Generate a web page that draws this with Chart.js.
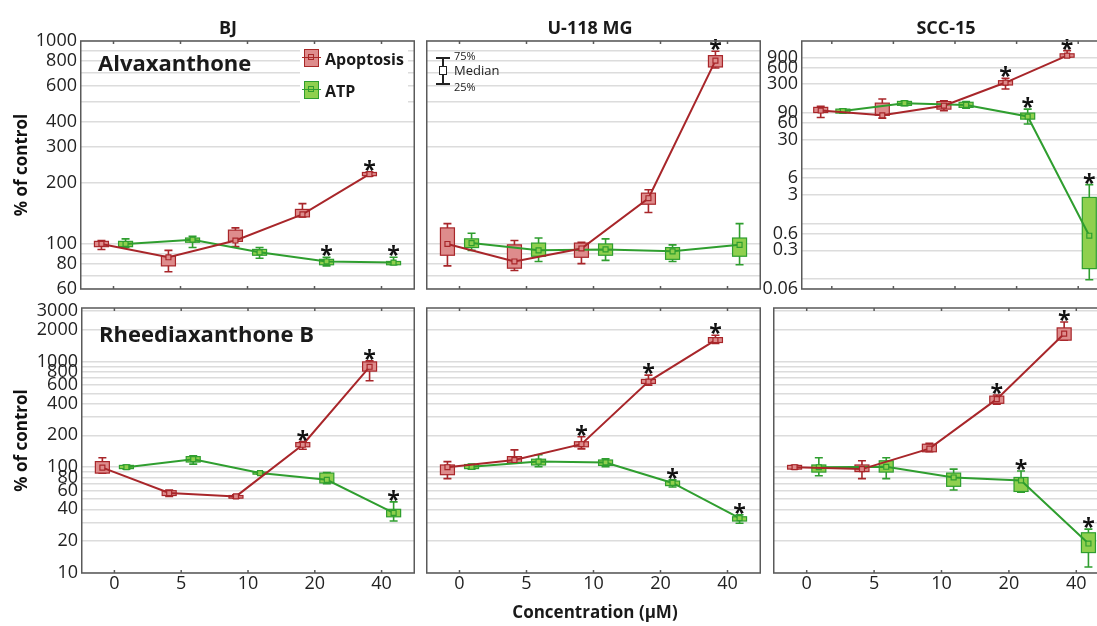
<!DOCTYPE html>
<html>
<head>
<meta charset="utf-8">
<script src="https://cdn.jsdelivr.net/npm/chart.js@4.4.1/dist/chart.umd.min.js"></script>
<style>
    html, body { margin: 0; padding: 0; background: #fff; overflow: hidden; }
    body { position: relative; width: 1097px; height: 626px; font-family: 'Open Sans', sans-serif; color: #1a1a1a; }
    canvas { position: absolute; }
    .txt { position: absolute; white-space: nowrap; font-weight: 700; line-height: 1; }
    .col-title { font-size: 18px; transform: translateX(-50%); }
    .compound { font-size: 22px; }
    .legend-bg { position: absolute; background: #fff; }
    .leg-icon { position: absolute; width: 15px; height: 18px; box-sizing: border-box; border: 1.5px solid; }
    .leg-icon::before { content: ''; position: absolute; left: -3px; right: -3px; top: 7px; border-top: 1.5px solid; border-color: inherit; }
    .leg-icon::after { content: ''; position: absolute; left: 3px; top: 4px; width: 6px; height: 6px; border: 1.5px solid; border-color: inherit; box-sizing: border-box; }
    .leg-text { position: absolute; font-weight: 700; font-size: 16px; line-height: 1; }
    .wk { position: absolute; background: #222; }
    .wk-text { position: absolute; font-size: 11px; line-height: 1; color: #222; }
</style>
</head>
<body>

<canvas id="p1" width="415" height="271" style="left:0;top:30px"></canvas>
<canvas id="p2" width="335" height="271" style="left:426px;top:30px"></canvas>
<canvas id="p3" width="352" height="271" style="left:757px;top:30px"></canvas>
<canvas id="p4" width="415" height="305" style="left:0;top:298px"></canvas>
<canvas id="p5" width="335" height="305" style="left:426px;top:298px"></canvas>
<canvas id="p6" width="337" height="305" style="left:773px;top:298px"></canvas>

<div class="txt col-title" style="left:228px;top:18px">BJ</div>
<div class="txt col-title" style="left:590px;top:18px">U-118 MG</div>
<div class="txt col-title" style="left:946px;top:18px">SCC-15</div>

<div class="txt compound" style="left:98px;top:51px">Alvaxanthone</div>
<div class="txt compound" style="left:99px;top:322px">Rheediaxanthone B</div>

<div class="legend-bg" style="left:300px;top:45px;width:108px;height:60px"></div>
<div class="leg-icon" style="left:304px;top:49px;background:#de8c8c;border-color:#a82828"></div>
<div class="leg-text" style="left:325px;top:51px">Apoptosis</div>
<div class="leg-icon" style="left:304px;top:81px;background:#8fd04e;border-color:#2f9e2f"></div>
<div class="leg-text" style="left:325px;top:83px">ATP</div>

<div class="wk" style="left:442px;top:57px;width:1.5px;height:27px"></div>
<div class="wk" style="left:436px;top:57px;width:14px;height:1.5px"></div>
<div class="wk" style="left:436px;top:83px;width:14px;height:1.5px"></div>
<div class="wk" style="left:439px;top:66px;width:8px;height:9px;background:#fff;border:1.5px solid #222;box-sizing:border-box"></div>
<div class="wk-text" style="left:454px;top:50px">75%</div>
<div class="wk-text" style="left:454px;top:64px;font-size:13px">Median</div>
<div class="wk-text" style="left:454px;top:81px">25%</div>

<div class="txt" style="left:595px;top:603px;font-size:17px;transform:translateX(-50%)">Concentration (&mu;M)</div>

<script>
// categories and tick values
const concLabels = ['0', '5', '10', '20', '40'];

const topGrid = [60, 70, 80, 90, 100, 200, 300, 400, 500, 600, 700, 800, 900, 1000];
const topTicks = [60, 80, 100, 200, 300, 400, 600, 800, 1000];
const sccGrid = [0.06, 0.09, 0.3, 0.6, 0.9, 3, 6, 9, 30, 60, 90, 300, 600, 900];
const sccTicks = [0.06, 0.3, 0.6, 3, 6, 30, 60, 90, 300, 600, 900];
const bottomGrid = [10, 20, 30, 40, 50, 60, 70, 80, 90, 100, 200, 300, 400, 500, 600, 700, 800, 900, 1000, 2000, 3000];
const bottomTicks = [10, 20, 40, 60, 80, 100, 200, 400, 600, 800, 1000, 2000, 3000];

// BJ - Alvaxanthone
const bjAlvApoMed   = [100, 86, 104, 140, 221];
const bjAlvApoBox   = [[97, 103], [78, 87], [103, 117], [136, 148], [217, 225]];
const bjAlvApoWhisk = [[94, 104], [73, 93], [97, 120], [136, 158], [216, 226]];
const bjAlvApoSig   = [0, 0, 0, 0, 1];
const bjAlvAtpMed   = [100, 105, 91, 82, 81];
const bjAlvAtpBox   = [[97, 103], [102, 107], [88, 94], [79, 84], [79, 82]];
const bjAlvAtpWhisk = [[96, 106], [96, 109], [85, 96], [78, 86], [79, 86]];
const bjAlvAtpSig   = [0, 0, 0, 1, 1];

// U-118 MG - Alvaxanthone
const uAlvApoMed   = [100, 82, 95, 168, 800];
const uAlvApoBox   = [[88, 120], [76, 99], [86, 101], [157, 178], [745, 847]];
const uAlvApoWhisk = [[78, 126], [74, 104], [80, 102], [143, 185], [736, 890]];
const uAlvApoSig   = [0, 0, 0, 0, 1];
const uAlvAtpMed   = [101, 93, 94, 92, 99];
const uAlvAtpBox   = [[96, 106], [87, 101], [88, 100], [84, 96], [87, 107]];
const uAlvAtpWhisk = [[93, 113], [82, 107], [83, 106], [82, 99], [79, 126]];
const uAlvAtpSig   = [0, 0, 0, 0, 0];

// SCC-15 - Alvaxanthone
const sAlvApoMed   = [100, 82, 122, 320, 980];
const sAlvApoBox   = [[92, 114], [82, 136], [106, 145], [289, 346], [918, 1057]];
const sAlvApoWhisk = [[75, 119], [73, 162], [99, 150], [245, 382], [918, 1208]];
const sAlvApoSig   = [0, 0, 0, 1, 1];
const sAlvAtpMed   = [98, 136, 126, 78, 0.55];
const sAlvAtpBox   = [[90, 106], [124, 146], [114, 141], [70, 90], [0.14, 2.7]];
const sAlvAtpWhisk = [[90, 106], [122, 148], [110, 145], [57, 106], [0.088, 4.6]];
const sAlvAtpSig   = [0, 0, 0, 1, 1];

// BJ - Rheediaxanthone B
const bjRheApoMed   = [99, 57, 53, 163, 890];
const bjRheApoBox   = [[88, 113], [54, 60], [51, 54], [156, 171], [810, 990]];
const bjRheApoWhisk = [[88, 123], [53, 61], [51, 55], [148, 175], [656, 1013]];
const bjRheApoSig   = [0, 0, 0, 1, 1];
const bjRheAtpMed   = [100, 119, 88, 76, 37];
const bjRheAtpBox   = [[97, 104], [112, 126], [86, 90], [71, 88], [34, 40]];
const bjRheAtpWhisk = [[96, 105], [107, 128], [86, 90], [70, 89], [31, 47]];
const bjRheAtpSig   = [0, 0, 0, 0, 1];

// U-118 MG - Rheediaxanthone B
const uRheApoMed   = [100, 117, 165, 645, 1590];
const uRheApoBox   = [[85, 105], [110, 126], [156, 174], [620, 676], [1510, 1680]];
const uRheApoWhisk = [[78, 113], [110, 146], [149, 194], [597, 743], [1480, 1770]];
const uRheApoSig   = [0, 0, 1, 1, 1];
const uRheAtpMed   = [101, 113, 111, 71, 33];
const uRheAtpBox   = [[97, 106], [105, 119], [104, 117], [67, 74], [31, 34]];
const uRheAtpWhisk = [[96, 107], [101, 131], [101, 120], [65, 76], [29.5, 35.5]];
const uRheAtpSig   = [0, 0, 0, 1, 1];

// SCC-15 - Rheediaxanthone B
const sRheApoMed   = [100, 96, 150, 440, 1830];
const sRheApoBox   = [[96, 104], [91, 105], [140, 165], [402, 470], [1590, 2075]];
const sRheApoWhisk = [[96, 104], [78, 115], [140, 168], [395, 481], [1590, 2360]];
const sRheApoSig   = [0, 0, 0, 1, 1];
const sRheAtpMed   = [100, 101, 80, 75, 19];
const sRheAtpBox   = [[90, 105], [90, 115], [66, 88], [59, 80], [15.6, 24]];
const sRheAtpWhisk = [[83, 123], [78, 123], [61, 96], [58, 92], [11.4, 26]];
const sRheAtpSig   = [0, 0, 0, 1, 1];

const APO = { line: '#a8262a', fill: '#de8c8c' };
const ATP = { line: '#2f9e2f', fill: '#8fd04e' };

Chart.defaults.font.family = "'Open Sans', sans-serif";
Chart.defaults.color = '#1a1a1a';

// draws the boxes, whiskers, asterisks and panel frame from the scales
const boxPlot = {
    id: 'boxPlot',
    beforeDatasetsDraw(chart) {
        const { ctx } = chart;
        const xs = chart.scales.x;
        const ys = chart.scales.y;
        chart.data.datasets.forEach(ds => {
            ds.data.forEach((pt, i) => {
                const x = xs.getPixelForValue(pt.x);
                const wLo = ys.getPixelForValue(ds.whisk[i][0]);
                const wHi = ys.getPixelForValue(ds.whisk[i][1]);
                const bLo = ys.getPixelForValue(ds.box[i][0]);
                const bHi = ys.getPixelForValue(ds.box[i][1]);
                ctx.save();
                ctx.strokeStyle = ds.borderColor;
                ctx.lineWidth = 1.6;
                ctx.beginPath();
                ctx.moveTo(x, wLo); ctx.lineTo(x, wHi);
                ctx.moveTo(x - 4, wLo); ctx.lineTo(x + 4, wLo);
                ctx.moveTo(x - 4, wHi); ctx.lineTo(x + 4, wHi);
                ctx.stroke();
                ctx.fillStyle = ds.boxFill;
                ctx.fillRect(x - 7, bHi, 14, bLo - bHi);
                ctx.lineWidth = 1.2;
                ctx.strokeRect(x - 7, bHi, 14, bLo - bHi);
                ctx.restore();
            });
        });
    },
    afterDatasetsDraw(chart) {
        const { ctx } = chart;
        const xs = chart.scales.x;
        const ys = chart.scales.y;
        ctx.save();
        ctx.fillStyle = '#111';
        ctx.font = "bold 23px 'Open Sans'";
        ctx.textAlign = 'center';
        ctx.textBaseline = 'alphabetic';
        chart.data.datasets.forEach(ds => {
            ds.data.forEach((pt, i) => {
                if (!ds.sig[i]) return;
                const x = xs.getPixelForValue(pt.x);
                const top = ys.getPixelForValue(ds.whisk[i][1]);
                ctx.fillText('*', x, top + 6);
            });
        });
        ctx.restore();
    },
    afterDraw(chart) {
        const { ctx, chartArea: a } = chart;
        const xs = chart.scales.x;
        ctx.save();
        ctx.strokeStyle = '#5a5a5a';
        ctx.lineWidth = 1.5;
        ctx.strokeRect(a.left + 0.75, a.top, a.right - a.left - 1.5, a.bottom - a.top);
        ctx.beginPath();
        concLabels.forEach((_, i) => {
            const x = xs.getPixelForValue(i);
            ctx.moveTo(x, a.top); ctx.lineTo(x, a.top + 3);
            ctx.moveTo(x, a.bottom); ctx.lineTo(x, a.bottom - 3);
        });
        ctx.stroke();
        ctx.restore();
    },
};

function noPadding(scale) {
    scale.paddingTop = 0;
    scale.paddingBottom = 0;
    scale.paddingLeft = 0;
    scale.paddingRight = 0;
}

function series(med, box, whisk, sig, colors, shift) {
    return {
        data: med.map((v, i) => ({ x: i + shift, y: v })),
        box,
        whisk,
        sig,
        boxFill: colors.fill,
        borderColor: colors.line,
        borderWidth: 2,
        pointStyle: 'rect',
        pointRadius: 3.5,
        pointBorderWidth: 1.2,
        pointBorderColor: colors.line,
        pointBackgroundColor: colors.fill,
        tension: 0,
    };
}

function makePanel(id, opts) {
    const ctx = document.getElementById(id).getContext('2d');
    return new Chart(ctx, {
        type: 'line',
        data: {
            datasets: [
                series(opts.apo[0], opts.apo[1], opts.apo[2], opts.apo[3], APO, -0.18),
                series(opts.atp[0], opts.atp[1], opts.atp[2], opts.atp[3], ATP, 0.18),
            ],
        },
        options: {
            responsive: false,
            animation: false,
            layout: {
                autoPadding: false,
                padding: { top: opts.padTop, left: 0, right: 0, bottom: opts.xLabels ? 0 : 12 },
            },
            plugins: {
                legend: { display: false },
                tooltip: { enabled: false },
            },
            scales: {
                x: {
                    type: 'linear',
                    min: -0.5,
                    max: 4.5,
                    grid: { display: false, drawTicks: false },
                    border: { display: false },
                    afterBuildTicks: scale => { scale.ticks = concLabels.map((_, i) => ({ value: i })); },
                    afterFit: scale => { scale.height = opts.xLabels ? 30 : 0; noPadding(scale); },
                    ticks: {
                        display: opts.xLabels,
                        padding: 0,
                        font: { size: 18 },
                        color: '#222',
                        callback: value => concLabels[value],
                    },
                },
                y: {
                    type: 'logarithmic',
                    min: opts.min,
                    max: opts.max,
                    border: { display: false },
                    grid: { color: '#dcdcdc', lineWidth: 1.5, drawTicks: false },
                    afterBuildTicks: scale => { scale.ticks = opts.grid.map(v => ({ value: v })); },
                    afterFit: scale => { scale.width = opts.yWidth; noPadding(scale); },
                    title: {
                        display: !!opts.yTitle,
                        text: '% of control',
                        font: { size: 17, weight: 'bold' },
                        color: '#111',
                        padding: { top: 12, bottom: 0 },
                    },
                    ticks: {
                        display: !!opts.labels,
                        padding: 3,
                        font: { size: 18 },
                        color: '#222',
                        autoSkip: false,
                        callback: value => (opts.labels && opts.labels.includes(value) ? String(value) : ''),
                    },
                },
            },
        },
        plugins: [boxPlot],
    });
}

makePanel('p1', {
    apo: [bjAlvApoMed, bjAlvApoBox, bjAlvApoWhisk, bjAlvApoSig],
    atp: [bjAlvAtpMed, bjAlvAtpBox, bjAlvAtpWhisk, bjAlvAtpSig],
    min: 60, max: 1000, grid: topGrid, labels: topTicks,
    yWidth: 80, yTitle: true, xLabels: false, padTop: 11,
});
makePanel('p2', {
    apo: [uAlvApoMed, uAlvApoBox, uAlvApoWhisk, uAlvApoSig],
    atp: [uAlvAtpMed, uAlvAtpBox, uAlvAtpWhisk, uAlvAtpSig],
    min: 60, max: 1000, grid: topGrid, labels: null,
    yWidth: 0, yTitle: false, xLabels: false, padTop: 11,
});
makePanel('p3', {
    apo: [sAlvApoMed, sAlvApoBox, sAlvApoWhisk, sAlvApoSig],
    atp: [sAlvAtpMed, sAlvAtpBox, sAlvAtpWhisk, sAlvAtpSig],
    min: 0.06, max: 1800, grid: sccGrid, labels: sccTicks,
    yWidth: 44, yTitle: false, xLabels: false, padTop: 11,
});
makePanel('p4', {
    apo: [bjRheApoMed, bjRheApoBox, bjRheApoWhisk, bjRheApoSig],
    atp: [bjRheAtpMed, bjRheAtpBox, bjRheAtpWhisk, bjRheAtpSig],
    min: 10, max: 3200, grid: bottomGrid, labels: bottomTicks,
    yWidth: 81, yTitle: true, xLabels: true, padTop: 10,
});
makePanel('p5', {
    apo: [uRheApoMed, uRheApoBox, uRheApoWhisk, uRheApoSig],
    atp: [uRheAtpMed, uRheAtpBox, uRheAtpWhisk, uRheAtpSig],
    min: 10, max: 3200, grid: bottomGrid, labels: null,
    yWidth: 0, yTitle: false, xLabels: true, padTop: 10,
});
makePanel('p6', {
    apo: [sRheApoMed, sRheApoBox, sRheApoWhisk, sRheApoSig],
    atp: [sRheAtpMed, sRheAtpBox, sRheAtpWhisk, sRheAtpSig],
    min: 10, max: 3200, grid: bottomGrid, labels: null,
    yWidth: 0, yTitle: false, xLabels: true, padTop: 10,
});
</script>
</body>
</html>
